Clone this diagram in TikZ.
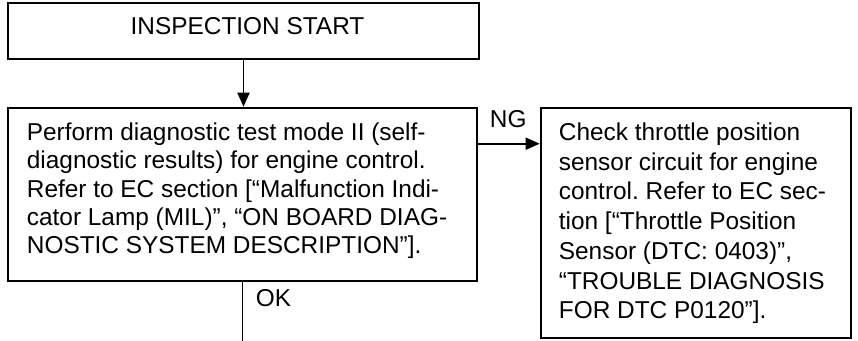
\documentclass[tikz,border=0pt]{standalone}
\usepackage{fontspec}
\setmainfont{Liberation Sans}
\usetikzlibrary{positioning,calc,arrows.meta}
\newcommand{\chartfont}{\fontsize{12.2}{14.15}\selectfont\frenchspacing}

\begin{document}
\begin{tikzpicture}[x=0.5pt,y=-0.5pt,>={Triangle[length=7pt,width=6pt]},line width=0.9pt]
    \tikzset{
        chartbox/.style={
            draw,
            line width=1.3pt,
            inner sep=0pt
        },
        chartlabel/.style={
            inner sep=0pt,
            align=left,
            font=\chartfont
        }
    }
    \useasboundingbox (0,0) rectangle (858,341);

    % Start
    \node[chartbox,minimum width=235.5pt,minimum height=28pt] (start) at (243.5,31) {};
    \node[chartlabel] (start_T) at (247.5,26.5) {INSPECTION START};

    % Diagnostic test mode II
    \node[chartbox,minimum width=234.5pt,minimum height=86.5pt] (diag) at (242.5,194.5) {};
    \node[chartlabel,anchor=north west] (diag_T) at (26,122) {Perform diagnostic test mode II (self-\\
        diagnostic results) for engine control.\\
        Refer to EC section [“Malfunction Indi-\\
        cator Lamp (MIL)”, “ON BOARD DIAG-\\
        NOSTIC SYSTEM DESCRIPTION”].};

    % Throttle position sensor
    \node[chartbox,minimum width=155pt,minimum height=115pt] (tps) at (696,223) {};
    \node[chartlabel,anchor=north west,font=\fontsize{12.2}{14.85}\selectfont\frenchspacing] (tps_T) at (558,122) {Check throttle position\\
        sensor circuit for engine\\
        control. Refer to EC sec-\\
        tion [“Throttle Position\\
        Sensor (DTC: 0403)”,\\
        “TROUBLE DIAGNOSIS\\
        FOR DTC P0120”].};

    %% Connectors
    \draw[->] (start.south) -- (start.south |- diag.north);

    \coordinate (ng_out) at ($(diag.north east)+(0,37)$);
    \draw[->] (ng_out) -- (ng_out -| tps.west);
    \node[chartlabel,anchor=base west] (ng_T) at (489,128) {NG};

    \coordinate (ok_end) at (242.5,341);
    \draw (diag.south) -- (ok_end);
    \node[chartlabel,anchor=base west] (ok_T) at (255,307) {OK};
\end{tikzpicture}
\end{document}
